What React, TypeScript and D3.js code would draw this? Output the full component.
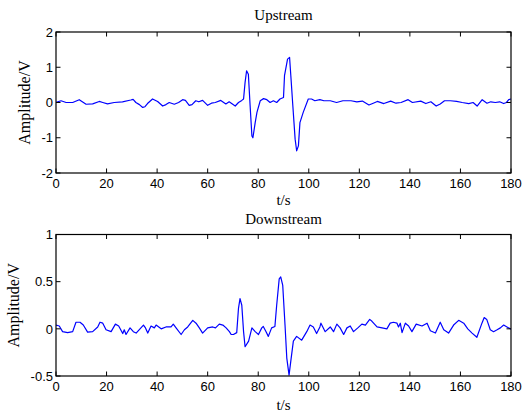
import React, { useRef, useEffect } from 'react';
import * as d3 from 'd3';

// [t (s), amplitude (V)]
const upstream: [number, number][] = [
  [0, 0], [2, 0.05], [4, 0], [6.6, 0], [9.2, 0.08], [11.9, -0.05], [14.5, -0.04], [17.1, 0.03], [18.5, 0],
  [20.4, -0.04], [23, 0], [26.3, 0.02], [29.6, 0.07], [30.5, 0.09], [31.6, 0], [33, -0.06], [34.3, -0.14],
  [35.2, -0.12], [36.2, -0.03], [38.2, 0.1], [40.2, 0.03], [42.2, -0.1], [43.5, -0.06], [44.8, 0], [46.8, -0.05],
  [48.5, 0], [50.1, 0.08], [51.2, 0.06], [52.7, -0.08], [53.8, -0.06], [55.3, 0.05], [56.5, 0.02], [58, 0.06],
  [60, -0.08], [61.5, -0.02], [63, 0], [65.2, 0.06], [67.2, -0.04], [68.5, 0.02], [70.9, -0.1], [72.2, 0],
  [73.5, 0.06], [74.2, 0.1], [74.8, 0.57], [75.4, 0.9], [76.1, 0.8], [76.8, -0.1], [77.5, -0.95], [77.9, -1.0],
  [78.8, -0.57], [79.5, -0.28], [80.8, 0.05], [82.1, 0.11], [83.4, 0.08], [84.7, 0], [86, 0.05], [87.3, 0],
  [88.6, 0.1], [90, 0.14], [90.4, 0.76], [91.6, 1.23], [92.4, 1.28], [92.9, 0.76], [93.7, -0.1], [94.6, -1.04],
  [95.2, -1.37], [95.9, -1.23], [96.5, -0.57], [97.8, -0.28], [99.8, 0.1], [101.1, 0.1], [102.4, 0.05],
  [104.4, 0.08], [106, 0.05], [108.5, 0.05], [111, 0], [113.5, 0.05], [116.7, 0.05], [119, 0.02], [121.2, 0.04],
  [123.8, -0.07], [125.5, -0.02], [127.1, 0.03], [129.7, -0.03], [132.4, 0.04], [134.5, -0.02], [136.5, 0],
  [139.3, 0.08], [141, 0], [144.3, 0.04], [146.3, -0.03], [148.3, 0.02], [150.4, -0.1], [152, -0.04],
  [153.7, 0.05], [156, 0.05], [158.5, 0.03], [160.7, 0], [163.3, -0.03], [165, 0], [166.6, -0.1], [168.6, 0.08],
  [170.5, -0.02], [172, 0.02], [173.8, 0], [175.5, 0.02], [177.1, -0.03], [178.2, 0], [179.1, 0.08], [180, 0.1],
];

const downstream: [number, number][] = [
  [0, 0.04], [1.3, 0.03], [2.6, -0.03], [4.6, -0.04], [6.6, -0.03], [7.9, 0.07], [9.5, 0.07], [10.8, 0.04],
  [12.5, -0.035], [14.5, -0.03], [16.5, 0.02], [17.4, 0.07], [18.5, 0.06], [19.8, -0.01], [21.8, -0.03],
  [23.5, 0.05], [24.8, 0.03], [26.4, -0.05], [27, -0.01], [27.7, -0.06], [29.3, 0.01], [30.6, -0.03],
  [31.7, -0.045], [33.6, 0.01], [34.6, 0.04], [35.4, 0.01], [36.3, -0.045], [37.6, 0.03], [38.9, 0.01],
  [39.6, 0.04], [41.6, 0], [43.5, 0.02], [45.5, 0.02], [46.4, 0.05], [47.5, 0.01], [49.5, -0.06], [50.8, -0.01],
  [52.1, 0.02], [54.1, 0.09], [55.4, 0.06], [56.7, 0.01], [58, -0.045], [60, 0.01], [62, 0.02], [63.1, 0.01],
  [64.6, 0.05], [66, 0.04], [67.3, 0.01], [68.6, -0.03], [69.3, -0.06], [70.2, -0.06], [71.5, -0.04],
  [72.2, 0.22], [72.8, 0.32], [73.5, 0.25], [74.2, -0.03], [74.8, -0.19], [76.2, -0.13], [77.5, 0.01],
  [78.8, -0.03], [80.1, -0.06], [81.4, 0.01], [82, 0.025], [83.1, -0.03], [84, -0.08], [85.3, 0.01],
  [86.6, 0.025], [87.3, 0.25], [88.3, 0.53], [88.9, 0.55], [89.7, 0.46], [90.6, 0.04], [91.3, -0.31],
  [92.2, -0.49], [92.9, -0.34], [93.9, -0.13], [95.2, -0.08], [97.2, -0.12], [99.2, -0.03], [100.5, 0.04],
  [101.8, 0.02], [103.1, -0.05], [104.4, 0.02], [104.8, 0.06], [106.5, -0.03], [108.5, 0.02], [109.8, -0.03],
  [111.1, 0.05], [112.4, 0.01], [113.8, -0.06], [115.1, 0.01], [116.4, 0.03], [117.7, -0.03], [119.4, 0.01],
  [121, 0.05], [122.4, 0.04], [124.1, 0.1], [125, 0.08], [127, 0.02], [129, 0.01], [130.9, 0], [132.2, 0.06],
  [133.5, 0.07], [134.9, 0.06], [135.5, 0.02], [136.2, 0.06], [136.9, -0.04], [138.2, 0.06], [139.5, 0.03],
  [140.8, -0.03], [142.5, 0.05], [144.8, 0.03], [146.8, 0.06], [148.1, -0.02], [150.1, -0.045], [152, 0.07],
  [153.4, -0.01], [155.3, -0.045], [157.3, 0.04], [159.3, 0.09], [161.3, 0.06], [162.9, 0], [164.6, -0.045],
  [166.5, -0.09], [168.5, 0.06], [169.4, 0.12], [170.4, 0.1], [171.8, -0.01], [173.1, -0.03], [174.5, -0.01],
  [175.8, 0.01], [177.1, 0.04], [178.4, 0.02], [179.7, 0], [180, 0],
];

const xTicks = [0, 20, 40, 60, 80, 100, 120, 140, 160, 180];
const upYTicks = [-2, -1, 0, 1, 2];
const downYTicks = [-0.5, 0, 0.5, 1];
const titles = ['Upstream', 'Downstream'];
const xLabel = 't/s';
const yLabel = 'Amplitude/V';

const W = 523;
const H = 414;
const left = 56;
const right = 511;
const tickLen = 4.5;

const panels = [
  { title: titles[0], data: upstream, domain: [-2, 2], ticks: upYTicks, top: 32, bottom: 173, titleY: 19.5, xLabelY: 205, yLabelX: 30 },
  { title: titles[1], data: downstream, domain: [-0.5, 1], ticks: downYTicks, top: 234.5, bottom: 376, titleY: 224, xLabelY: 410, yLabelX: 19 },
];

const App = () => {
  const svgRef = useRef<SVGSVGElement>(null);

  useEffect(() => {
    if (!svgRef.current) return;
    const svg = d3.select(svgRef.current);
    svg.selectAll('*').remove();

    svg.append('rect').attr('width', W).attr('height', H).attr('fill', '#fff');

    const x = d3.scaleLinear().domain([0, 180]).range([left, right]);
    const tickFont = '"Liberation Sans", Arial, sans-serif';
    const serif = '"Liberation Serif", "Times New Roman", serif';

    panels.forEach((p) => {
      const y = d3.scaleLinear().domain(p.domain).range([p.bottom, p.top]);
      const g = svg.append('g');

      // clip for the curve
      const clipId = `clip-${p.title}`;
      g.append('clipPath').attr('id', clipId)
        .append('rect').attr('x', left).attr('y', p.top).attr('width', right - left).attr('height', p.bottom - p.top);

      const line = d3.line<[number, number]>().x(d => x(d[0])).y(d => y(d[1]));
      g.append('path')
        .datum(p.data)
        .attr('clip-path', `url(#${clipId})`)
        .attr('fill', 'none')
        .attr('stroke', '#0000ff')
        .attr('stroke-width', 1.2)
        .attr('stroke-linejoin', 'round')
        .attr('d', line);

      // ticks (inside, all four sides)
      xTicks.forEach(t => {
        g.append('line').attr('x1', x(t)).attr('x2', x(t)).attr('y1', p.bottom).attr('y2', p.bottom - tickLen).attr('stroke', '#000');
        g.append('line').attr('x1', x(t)).attr('x2', x(t)).attr('y1', p.top).attr('y2', p.top + tickLen).attr('stroke', '#000');
        g.append('text')
          .attr('x', x(t))
          .attr('y', p.bottom + 14.5)
          .attr('text-anchor', 'middle')
          .attr('font-family', tickFont)
          .attr('font-size', 13)
          .attr('fill', '#000')
          .text(t);
      });
      p.ticks.forEach(v => {
        g.append('line').attr('x1', left).attr('x2', left + tickLen).attr('y1', y(v)).attr('y2', y(v)).attr('stroke', '#000');
        g.append('line').attr('x1', right).attr('x2', right - tickLen).attr('y1', y(v)).attr('y2', y(v)).attr('stroke', '#000');
        g.append('text')
          .attr('x', left - 3)
          .attr('y', y(v) + 4.7)
          .attr('text-anchor', 'end')
          .attr('font-family', tickFont)
          .attr('font-size', 13)
          .attr('fill', '#000')
          .text(v);
      });

      // axes box
      g.append('rect')
        .attr('x', left)
        .attr('y', p.top)
        .attr('width', right - left)
        .attr('height', p.bottom - p.top)
        .attr('fill', 'none')
        .attr('stroke', '#000')
        .attr('stroke-width', 1.2);

      g.append('text')
        .attr('x', (left + right) / 2)
        .attr('y', p.titleY)
        .attr('text-anchor', 'middle')
        .attr('font-family', serif)
        .attr('font-size', 15)
        .attr('fill', '#000')
        .text(p.title);

      g.append('text')
        .attr('x', (left + right) / 2)
        .attr('y', p.xLabelY)
        .attr('text-anchor', 'middle')
        .attr('font-family', serif)
        .attr('font-size', 15)
        .attr('fill', '#000')
        .text(xLabel);

      const cy = (p.top + p.bottom) / 2;
      g.append('text')
        .attr('transform', `translate(${p.yLabelX}, ${cy}) rotate(-90)`)
        .attr('text-anchor', 'middle')
        .attr('font-family', serif)
        .attr('font-size', 16)
        .attr('fill', '#000')
        .text(yLabel);
    });
  }, []);

  return (
    <div style={{ position: 'absolute', left: 0, top: 0 }}>
      <svg ref={svgRef} width={W} height={H} style={{ display: 'block' }} />
    </div>
  );
};

export default App;
